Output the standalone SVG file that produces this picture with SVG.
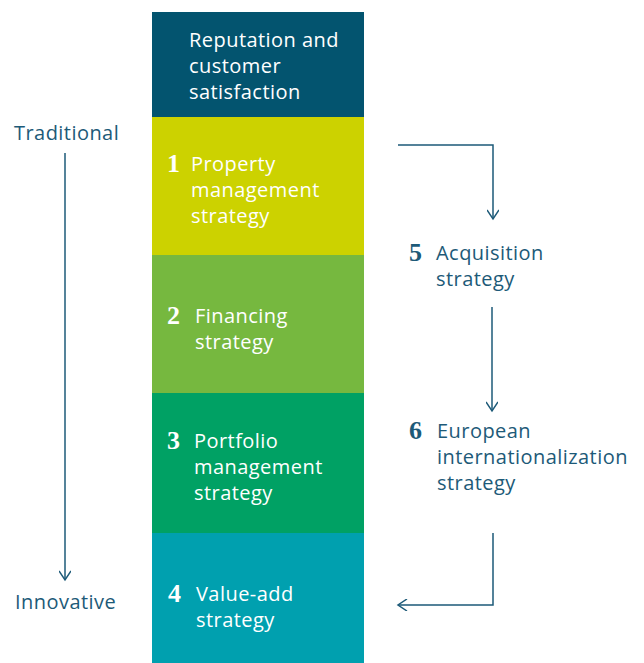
<svg xmlns="http://www.w3.org/2000/svg" width="644" height="663" viewBox="0 0 644 663">
<defs>
<style>
.t{font-family:"Open Sans","Noto Sans","Liberation Sans",sans-serif;font-size:20px;letter-spacing:0.45px;}
.w{fill:#ffffff;}
.d{fill:#1d5a78;}
.n{font-family:"Liberation Serif","Times New Roman",serif;font-size:26px;font-weight:bold;}
.c{fill:none;stroke:#1d5a78;stroke-width:1.5;}
</style>
<marker id="ah" viewBox="0 0 12 12" refX="10" refY="6" markerWidth="12" markerHeight="12" markerUnits="userSpaceOnUse" orient="auto">
<path d="M1,0 L10,6 L1,12" fill="none" stroke="#1d5a78" stroke-width="1.5"/>
</marker>
</defs>
<rect width="644" height="663" fill="#ffffff"/>
<g id="top">
<rect x="152" y="12" width="212" height="105" fill="#03546f"/>
<text class="t w" x="189" y="47">Reputation and</text>
<text class="t w" x="189" y="73">customer</text>
<text class="t w" x="189" y="99">satisfaction</text>
</g>
<g id="node1">
<rect x="152" y="117" width="212" height="138" fill="#ccd200"/>
<text class="n w" x="167" y="172">1</text>
<text class="t w" x="191" y="171">Property</text>
<text class="t w" x="191" y="197">management</text>
<text class="t w" x="191" y="223">strategy</text>
</g>
<g id="node2">
<rect x="152" y="255" width="212" height="138" fill="#76b83f"/>
<text class="n w" x="167" y="324">2</text>
<text class="t w" x="195" y="323">Financing</text>
<text class="t w" x="195" y="349">strategy</text>
</g>
<g id="node3">
<rect x="152" y="393" width="212" height="140" fill="#00a164"/>
<text class="n w" x="167" y="449">3</text>
<text class="t w" x="194" y="448">Portfolio</text>
<text class="t w" x="194" y="474">management</text>
<text class="t w" x="194" y="500">strategy</text>
</g>
<g id="node4">
<rect x="152" y="533" width="212" height="130" fill="#00a0af"/>
<text class="n w" x="168" y="602">4</text>
<text class="t w" x="196" y="601">Value-add</text>
<text class="t w" x="196" y="627">strategy</text>
</g>
<g id="node5">
<text class="n d" x="409" y="261">5</text>
<text class="t d" x="436" y="260">Acquisition</text>
<text class="t d" x="436" y="286">strategy</text>
</g>
<g id="node6">
<text class="n d" x="409" y="439">6</text>
<text class="t d" x="437" y="438">European</text>
<text class="t d" x="437" y="464">internationalization</text>
<text class="t d" x="437" y="490">strategy</text>
</g>
<g id="axis">
<text class="t d" x="14" y="140">Traditional</text>
<text class="t d" x="15" y="609">Innovative</text>
</g>
<g id="connectors">
<path class="c" d="M65,153 L65,580" marker-end="url(#ah)"/>
<path class="c" d="M398,145 L493,145 L493,219" marker-end="url(#ah)"/>
<path class="c" d="M492,307 L492,411" marker-end="url(#ah)"/>
<path class="c" d="M493,533 L493,605 L398,605" marker-end="url(#ah)"/>
</g>
</svg>
